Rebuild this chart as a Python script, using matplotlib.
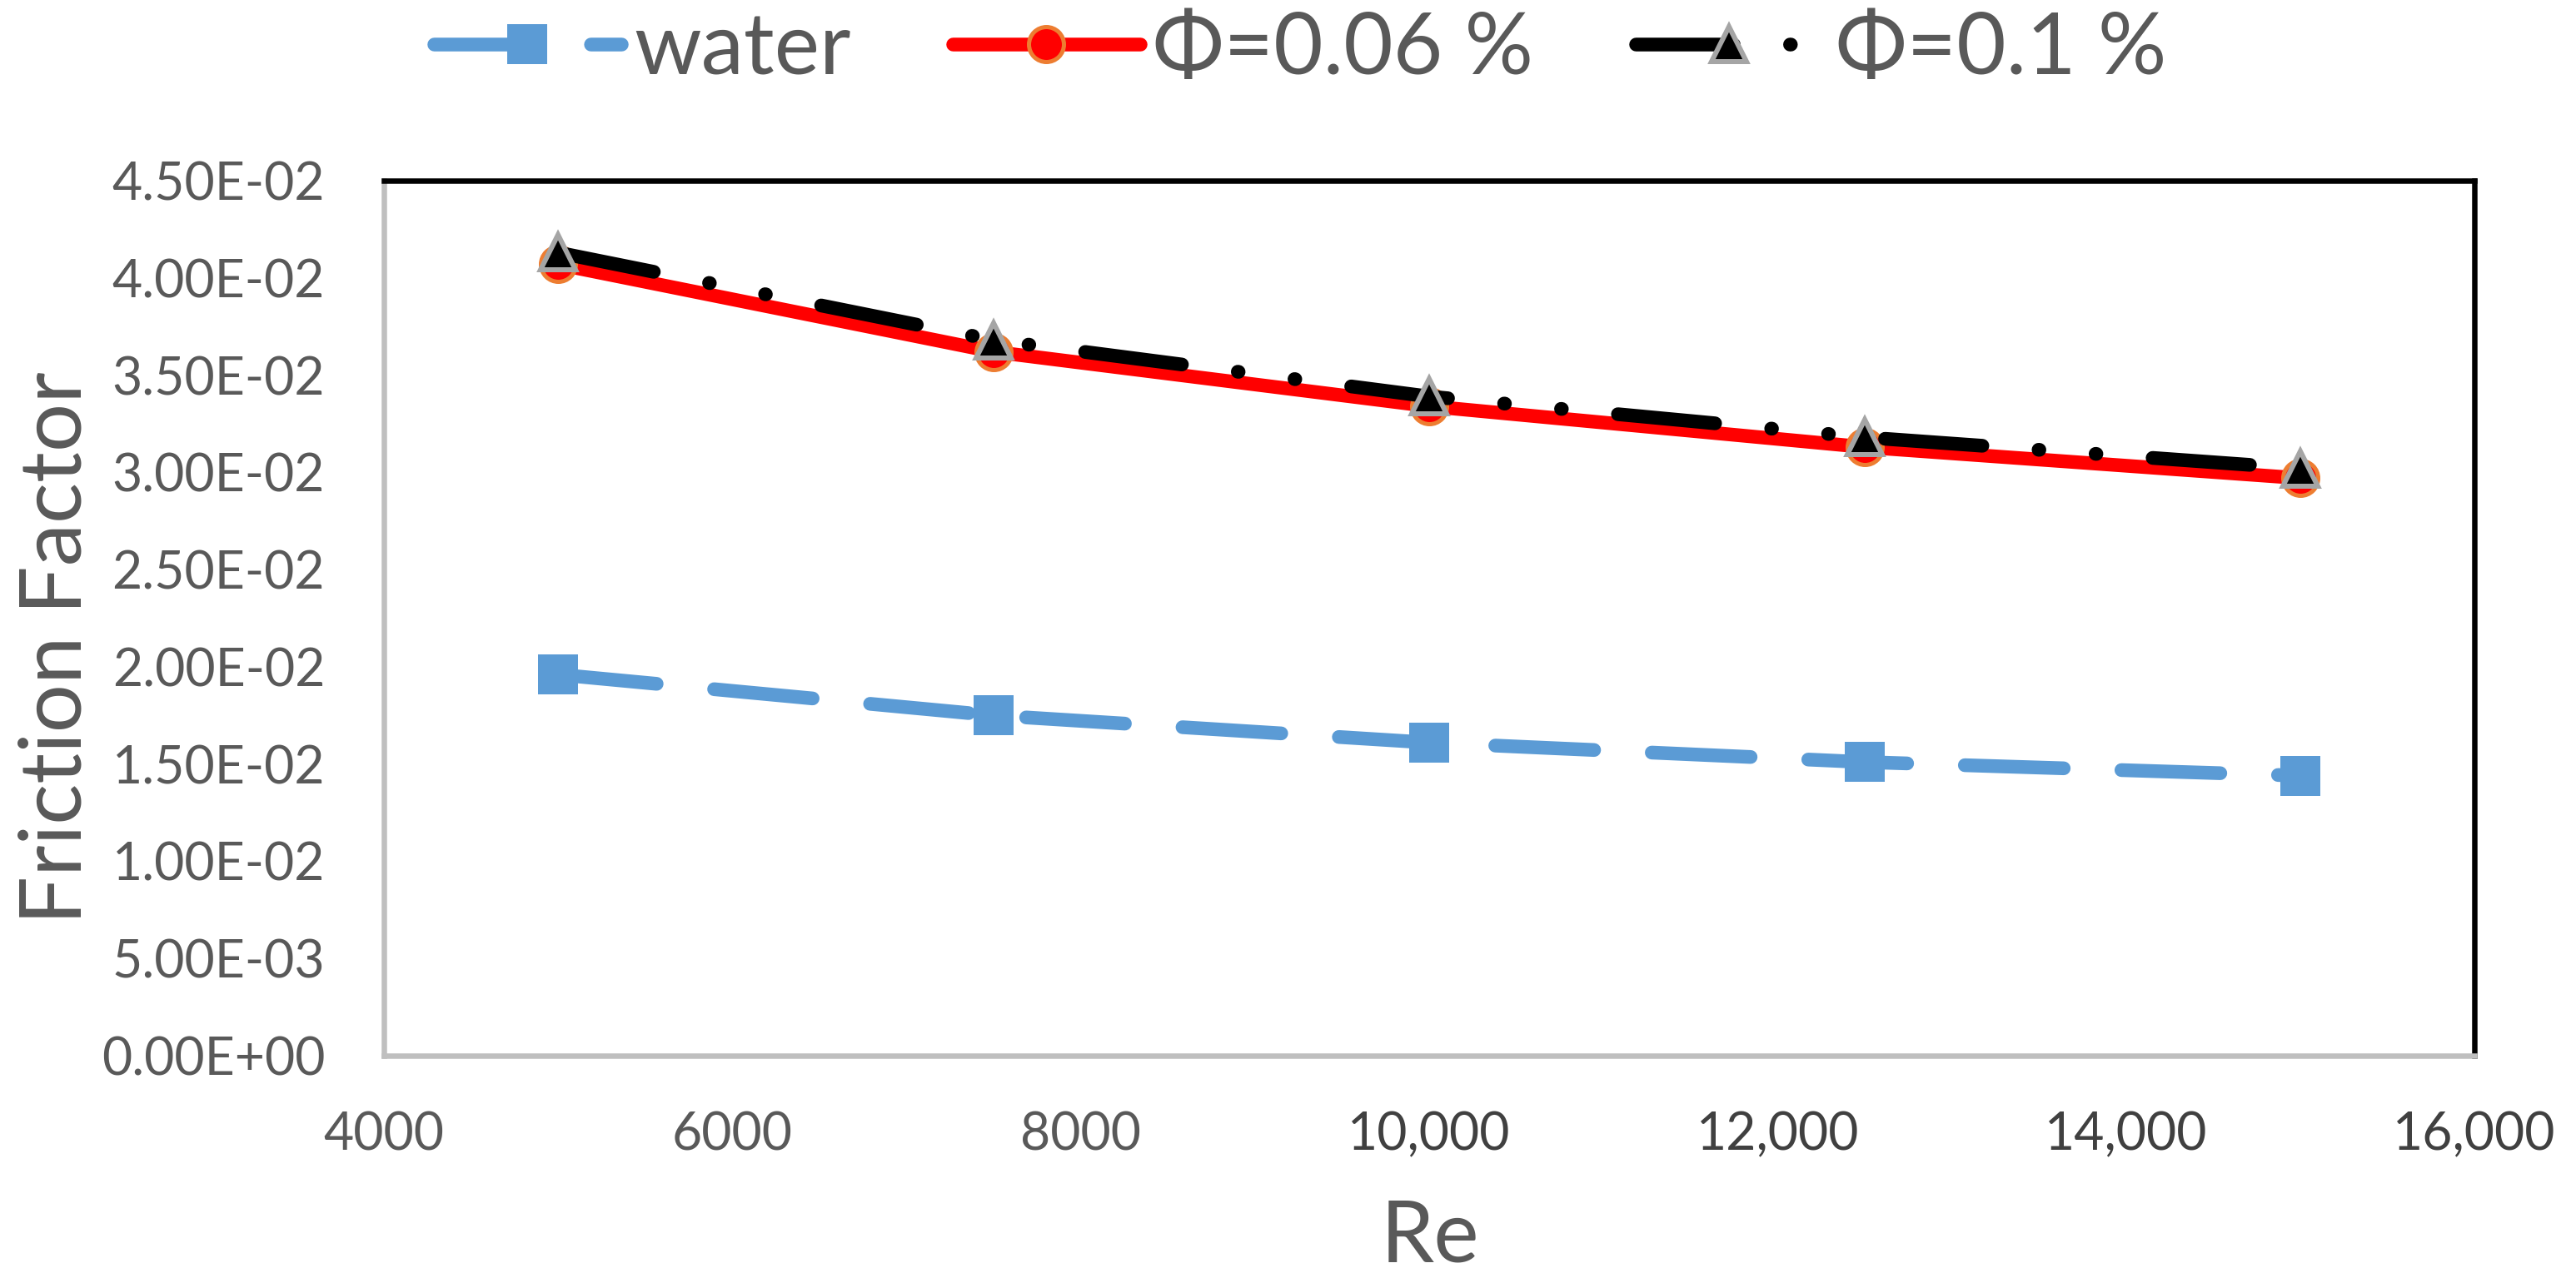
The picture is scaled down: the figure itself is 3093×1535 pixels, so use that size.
import matplotlib
matplotlib.use('Agg')
import matplotlib.pyplot as plt

# ---------------- data ----------------
re_values = [5000, 7500, 10000, 12500, 15000]
water = [0.0196, 0.0175, 0.0161, 0.0151, 0.0144]
phi_006 = [0.0407, 0.0362, 0.0334, 0.0313, 0.0297]
phi_01 = [0.0413, 0.0368, 0.0339, 0.0318, 0.0302]
series_labels = ['water', 'Φ=0.06 %', 'Φ=0.1 %']

x_ticks = [4000, 6000, 8000, 10000, 12000, 14000, 16000]
x_tick_labels = ['4000', '6000', '8000', '10,000', '12,000', '14,000', '16,000']
y_ticks = [0.0, 0.005, 0.010, 0.015, 0.020, 0.025, 0.030, 0.035, 0.040, 0.045]
y_tick_labels = ['0.00E+00', '5.00E-03', '1.00E-02', '1.50E-02', '2.00E-02',
                 '2.50E-02', '3.00E-02', '3.50E-02', '4.00E-02', '4.50E-02']
x_title = 'Re'
y_title = 'Friction Factor'

# ---------------- style ----------------
plt.rcParams['font.family'] = ['Lato', 'DejaVu Sans']
TEXT = '#595959'
DPI = 100
W, H = 3093, 1535
PX = 72.0 / DPI  # px -> pt

fig = plt.figure(figsize=(W / DPI, H / DPI), dpi=DPI)
ax = fig.add_axes([461 / W, 1 - 1268 / H, (2971 - 461) / W, (1268 - 217) / H])

lw = 16.5 * PX
ax.plot(re_values, water, color='#5B9BD5', lw=lw, dashes=[7.2, 4.2],
        dash_capstyle='round', marker='s', ms=48 * PX, mfc='#5B9BD5',
        mec='#5B9BD5', mew=0, label=series_labels[0], zorder=3)
ax.plot(re_values, phi_006, color='#FF0000', lw=lw, solid_capstyle='round',
        marker='o', ms=42 * PX, mfc='#FF0000', mec='#ED7D31', mew=5 * PX,
        label=series_labels[1], zorder=4)
ax.plot(re_values, phi_01, color='black', lw=lw,
        dashes=[7.1, 4.1, 0.06, 4.1, 0.06, 4.1], dash_capstyle='round',
        marker='^', ms=42 * PX, mfc='black', mec='#A5A5A5', mew=6 * PX,
        label=series_labels[2], zorder=5)

ax.set_xlim(4000, 16000)
ax.set_ylim(0, 0.045)
ax.set_xticks(x_ticks, x_tick_labels)
ax.set_yticks(y_ticks, y_tick_labels)
ax.tick_params(length=0, labelsize=45, labelcolor=TEXT)
ax.tick_params(axis='y', pad=51)
ax.tick_params(axis='x', pad=48)
for t in ax.get_xticklabels():
    if ',' in t.get_text():
        t.set_color('#404040')

spw = 6.5 * PX
for side in ['left', 'bottom']:
    ax.spines[side].set_color('#BFBFBF')
    ax.spines[side].set_linewidth(spw)
for side in ['top', 'right']:
    ax.spines[side].set_color('black')
    ax.spines[side].set_linewidth(spw)

fig.text(1717 / W, 1 - 1516 / H, x_title, fontsize=74, color=TEXT,
         ha='center', va='baseline')
fig.text(98 / W, 1 - 778 / H, y_title, fontsize=74, color=TEXT,
         rotation=90, rotation_mode='anchor', ha='center', va='baseline')

fig.legend(loc='center', bbox_to_anchor=(1561 / W, 1 - 60 / H), ncol=3,
           frameon=False, fontsize=74, handlelength=2.19, handletextpad=0.15,
           columnspacing=1.19, borderpad=0, labelcolor=TEXT)

fig.savefig('out.png', dpi=DPI)
